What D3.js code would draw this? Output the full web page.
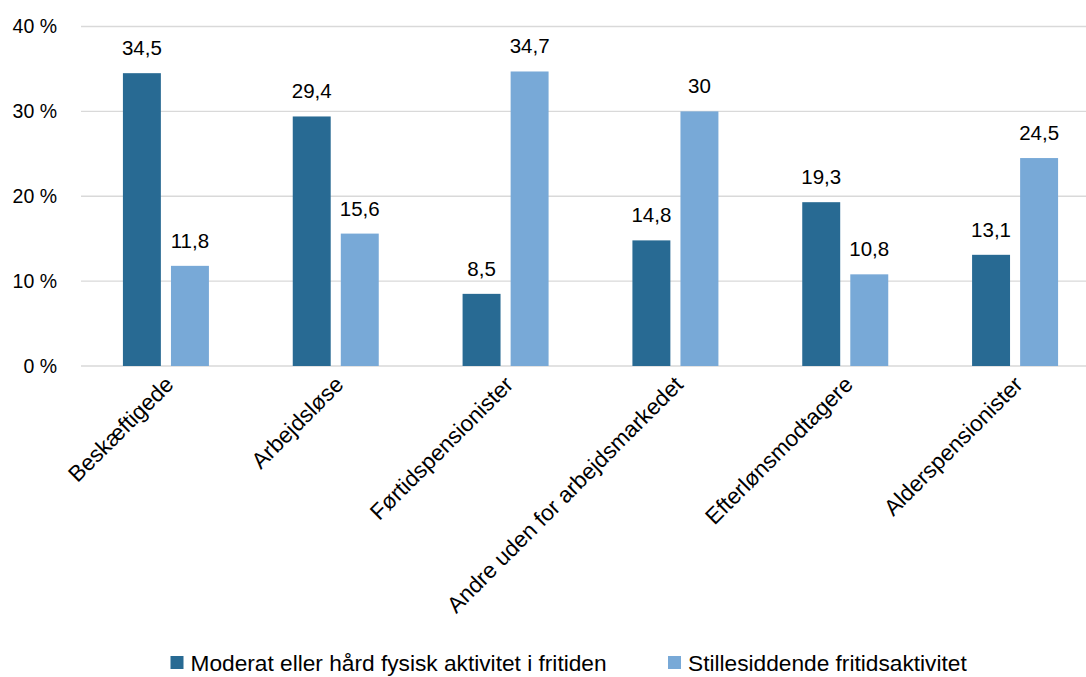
<!DOCTYPE html>
<html>
<head>
<meta charset="utf-8">
<script src="https://cdn.jsdelivr.net/npm/d3@7"></script>
<style>
  html, body { margin: 0; padding: 0; background: #fff; }
  svg { display: block; }
  text { font-family: "Liberation Sans", Arial, sans-serif; fill: #000; }
</style>
</head>
<body>
<script>
const categories = ["Beskæftigede", "Arbejdsløse", "Førtidspensionister", "Andre uden for arbejdsmarkedet", "Efterlønsmodtagere", "Alderspensionister"];
const seriesNames = ["Moderat eller hård fysisk aktivitet i fritiden", "Stillesiddende fritidsaktivitet"];
const moderat = [34.5, 29.4, 8.5, 14.8, 19.3, 13.1];
const stillesiddende = [11.8, 15.6, 34.7, 30, 10.8, 24.5];
const labelsModerat = ["34,5", "29,4", "8,5", "14,8", "19,3", "13,1"];
const labelsStille = ["11,8", "15,6", "34,7", "30", "10,8", "24,5"];
const yTicks = [0, 10, 20, 30, 40];
const yTickLabels = ["0 %", "10 %", "20 %", "30 %", "40 %"];
const colors = ["#286A93", "#78A9D7"];

const W = 1086, H = 677;
const svg = d3.select("body").append("svg").attr("width", W).attr("height", H);

const x0 = d3.scaleBand().domain(categories).range([81, 1100]);
const x1 = d3.scaleBand().domain(seriesNames).range([-43, 43]).paddingInner(0.21);
const y = d3.scaleLinear().domain([0, 40]).range([366, 26.5]);

// gridlines
svg.append("g").selectAll("line").data(yTicks).join("line")
  .attr("x1", 81).attr("x2", 1086)
  .attr("y1", d => y(d)).attr("y2", d => y(d))
  .attr("stroke", "#d9d9d9").attr("stroke-width", 1.3);

// y axis labels
svg.append("g").selectAll("text").data(yTicks).join("text")
  .attr("x", 57).attr("y", d => y(d)).attr("dy", "0.35em")
  .attr("text-anchor", "end").attr("font-size", 19.5)
  .text((d, i) => yTickLabels[i]);

const data = categories.map((c, i) => ({
  cat: c,
  vals: [
    { s: seriesNames[0], v: moderat[i], lab: labelsModerat[i], col: colors[0] },
    { s: seriesNames[1], v: stillesiddende[i], lab: labelsStille[i], col: colors[1] }
  ]
}));

const groups = svg.append("g").selectAll("g").data(data).join("g")
  .attr("transform", d => `translate(${x0(d.cat) + x0.bandwidth() / 2},0)`);

groups.selectAll("rect").data(d => d.vals).join("rect")
  .attr("x", d => x1(d.s)).attr("width", x1.bandwidth())
  .attr("y", d => y(d.v)).attr("height", d => y(0) - y(d.v))
  .attr("fill", d => d.col);

groups.selectAll("text.lab").data(d => d.vals).join("text")
  .attr("class", "lab")
  .attr("x", d => x1(d.s) + x1.bandwidth() / 2)
  .attr("y", d => y(d.v) - 18)
  .attr("text-anchor", "middle").attr("font-size", 20.5)
  .text(d => d.lab);

// category labels
svg.append("g").selectAll("text").data(categories).join("text")
  .attr("text-anchor", "end").attr("font-size", 22.5)
  .attr("transform", d => `translate(${x0(d) + x0.bandwidth() / 2 + 9},${386}) rotate(-45)`)
  .text(d => d);

// legend
const legendX = [170.5, 668];
const legend = svg.append("g").selectAll("g").data(seriesNames).join("g")
  .attr("transform", (d, i) => `translate(${legendX[i]},0)`);
legend.append("rect").attr("x", 0).attr("y", 656).attr("width", 13).attr("height", 13)
  .attr("fill", (d, i) => colors[i]);
legend.append("text").attr("x", 20).attr("y", 670.5).attr("font-size", 22.7)
  .text(d => d);
</script>
</body>
</html>
